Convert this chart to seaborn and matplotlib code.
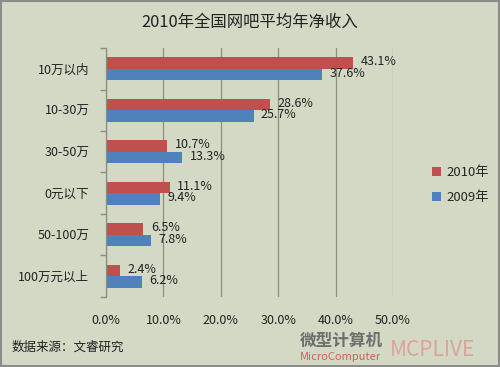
import numpy as np
import pandas as pd
import matplotlib
matplotlib.use("Agg")
import matplotlib.pyplot as plt
import seaborn as sns
from matplotlib.patches import Rectangle

# data
categories = ["10万以内", "10-30万", "30-50万", "0元以下", "50-100万", "100万元以上"]
years = ["2010年", "2009年"]
values_2010 = [43.1, 28.6, 10.7, 11.1, 6.5, 2.4]
values_2009 = [37.6, 25.7, 13.3, 9.4, 7.8, 6.2]
x_ticks = [0, 10, 20, 30, 40, 50]

bg = "#D3D9C5"
pal = {"2010年": "#C0504D", "2009年": "#4F81BD"}

sns.set_theme(style="white")
plt.rcParams['font.family'] = ['Noto Sans CJK SC', 'DejaVu Sans']

df = pd.DataFrame({
    "category": categories * 2,
    "year": [years[0]] * len(categories) + [years[1]] * len(categories),
    "value": values_2010 + values_2009,
})

fig = plt.figure(figsize=(5, 3.67), dpi=100, facecolor=bg)
ax = fig.add_axes([0.212, 0.191, 0.574, 0.678])
ax.set_facecolor(bg)

sns.barplot(data=df, y="category", x="value", hue="year", hue_order=years,
            order=categories, palette=pal, orient="h", width=0.56,
            saturation=1, linewidth=0, ax=ax, legend=True)

# value labels
for cont in ax.containers:
    for bar in cont:
        w = bar.get_width()
        yc = bar.get_y() + bar.get_height() / 2
        ax.text(w + 1.3, yc - 0.03, f"{w:.1f}%", va="center", ha="left",
                fontsize=9, color="#222222")

ax.set_xlim(0, 50)
ax.set_xticks(x_ticks)
ax.set_xticklabels([f"{t:.1f}%" for t in x_ticks], fontsize=9, color="#222222")
ax.tick_params(axis="x", length=4, pad=8, color="#8a9080")
ax.xaxis.grid(True, color="#8a9080", linewidth=0.9)
ax.set_axisbelow(True)
ax.tick_params(axis="y", labelsize=9, labelcolor="#222222", length=0, pad=12)
ax.set_yticks(np.arange(-0.5, len(categories) + 0.5, 1), minor=True)
ax.tick_params(axis="y", which="minor", length=4, color="#8a9080", left=True)
ax.set_xlabel("")
ax.set_ylabel("")
for s in ["top", "right", "bottom"]:
    ax.spines[s].set_visible(False)
ax.spines["left"].set_color("#8a9080")
ax.spines["left"].set_linewidth(0.9)

handles, labels = ax.get_legend_handles_labels()
ax.legend(handles, labels, loc="center left", bbox_to_anchor=(1.095, 0.45),
          frameon=False, fontsize=9.5, handlelength=0.7, handleheight=0.7,
          handletextpad=0.4, labelspacing=0.9)

fig.text(0.5, 0.94, "2010年全国网吧平均年净收入", ha="center", va="center",
         fontsize=11.8, color="#222222")
fig.text(0.024, 0.055, "数据来源：文睿研究", ha="left", va="center",
         fontsize=9, color="#222222")

# watermark
fig.text(0.6, 0.072, "微型计算机", ha="left", va="center", fontsize=12,
         fontweight="bold", color="#555555", alpha=0.8)
fig.text(0.6, 0.027, "MicroComputer", ha="left", va="center", fontsize=8,
         color="#d04040", alpha=0.8)
fig.text(0.78, 0.045, "MCPLIVE", ha="left", va="center", fontsize=15,
         color="#e08080", alpha=0.6)

fig.patches.append(Rectangle((0.002, 0.003), 0.996, 0.994, transform=fig.transFigure,
                             fill=False, edgecolor="#8c8c8c", linewidth=1.5))

fig.savefig("out.png", dpi=100, facecolor=bg)
